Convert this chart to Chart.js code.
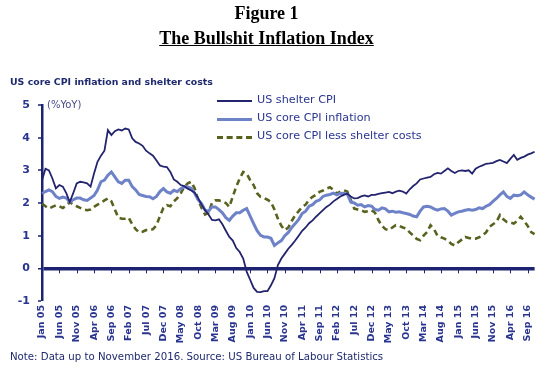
<!DOCTYPE html>
<html><head><meta charset="utf-8">
<script src="https://cdn.jsdelivr.net/npm/chart.js@4/dist/chart.umd.min.js"></script>
<style>
html,body{margin:0;padding:0;background:#fff;width:550px;height:368px;overflow:hidden;}
#wrap{position:relative;width:550px;height:368px;}
canvas{position:absolute;left:0;top:0;}
.t{position:absolute;white-space:nowrap;}
.lg{position:absolute;left:217px;width:35px;height:0;}
</style></head><body>
<div id="wrap">
<canvas id="c" width="550" height="368"></canvas>
<div class="t" style="left:0;width:533px;text-align:center;top:3px;font:bold 18px 'Liberation Serif',serif;color:#000">Figure 1</div>
<div class="t" style="left:0;width:533px;text-align:center;top:28px;font:bold 18px 'Liberation Serif',serif;color:#000;text-decoration:underline">The Bullshit Inflation Index</div>
<div class="t" style="left:10px;top:76px;font:bold 9.4px 'DejaVu Sans',sans-serif;color:#1f2a6e">US core CPI inflation and shelter costs</div>
<div class="t" style="left:47px;top:99px;font:10px 'DejaVu Sans',sans-serif;color:#4a4a8c">(%YoY)</div>
<div class="lg" style="top:100px;border-top:2px solid #23236e"></div>
<div class="t" style="left:257px;top:93px;font:11.2px 'DejaVu Sans',sans-serif;color:#2a3590">US shelter CPI</div>
<div class="lg" style="top:118px;border-top:3px solid #6e82c8"></div>
<div class="t" style="left:257px;top:111px;font:11.2px 'DejaVu Sans',sans-serif;color:#2a3590">US core CPI inflation</div>
<div class="lg" style="top:136px;border-top:3px dashed #59621f"></div>
<div class="t" style="left:257px;top:129px;font:11.2px 'DejaVu Sans',sans-serif;color:#2a3590">US core CPI less shelter costs</div>
<div class="t" style="left:10px;top:351px;font:10.2px 'DejaVu Sans',sans-serif;color:#1f2a6e">Note: Data up to November 2016. Source: US Bureau of Labour Statistics</div>
</div>
<script>
// Month categories Jan 2005 .. Nov 2016
const monthNames = ["Jan","Feb","Mar","Apr","May","Jun","Jul","Aug","Sep","Oct","Nov","Dec"];
const categories = [];
for (let y = 5; y <= 16; y++) {
  for (let m = 0; m < 12; m++) {
    if (y === 16 && m > 10) break;
    categories.push(monthNames[m] + " " + String(y).padStart(2, "0"));
  }
}
// Tick labels shown every five months
const tickLabels = ["Jan 05","Jun 05","Nov 05","Apr 06","Sep 06","Feb 07","Jul 07","Dec 07","May 08","Oct 08","Mar 09","Aug 09","Jan 10","Jun 10","Nov 10","Apr 11","Sep 11","Feb 12","Jul 12","Dec 12","May 13","Oct 13","Mar 14","Aug 14","Jan 15","Jun 15","Nov 15","Apr 16","Sep 16"];
const yTicks = [-1,0,1,2,3,4,5];

const shelterCPI = [
 2.70,3.05,3.00,2.75,2.45,2.55,2.50,2.30,2.03,2.30,2.60,2.65,
 2.63,2.60,2.50,2.90,3.26,3.45,3.60,4.23,4.08,4.20,4.25,4.22,
 4.28,4.25,3.98,3.87,3.82,3.75,3.60,3.52,3.45,3.30,3.15,3.11,
 3.10,2.95,2.72,2.65,2.55,2.52,2.44,2.38,2.32,2.15,1.95,1.78,
 1.65,1.48,1.47,1.50,1.35,1.15,0.96,0.85,0.62,0.50,0.30,-0.10,
 -0.35,-0.60,-0.72,-0.73,-0.70,-0.70,-0.52,-0.30,0.10,0.30,0.45,0.60,
 0.72,0.85,1.00,1.15,1.25,1.38,1.47,1.58,1.68,1.78,1.88,1.95,
 2.05,2.12,2.20,2.25,2.29,2.20,2.14,2.15,2.20,2.23,2.20,2.25,
 2.25,2.28,2.30,2.32,2.34,2.30,2.35,2.38,2.35,2.29,2.42,2.52,
 2.60,2.72,2.75,2.78,2.80,2.88,2.92,2.90,2.98,3.06,2.98,2.92,
 2.98,3.00,2.98,3.00,2.90,3.05,3.11,3.15,3.20,3.21,3.23,3.28,
 3.32,3.27,3.22,3.35,3.47,3.32,3.38,3.42,3.48,3.52,3.57
];
const coreCPI = [
 2.29,2.35,2.40,2.35,2.20,2.14,2.18,2.15,2.03,2.10,2.15,2.15,
 2.10,2.08,2.15,2.23,2.40,2.65,2.70,2.85,2.95,2.80,2.65,2.60,
 2.70,2.70,2.50,2.40,2.26,2.23,2.20,2.19,2.13,2.20,2.35,2.44,
 2.34,2.30,2.39,2.35,2.44,2.50,2.49,2.45,2.30,2.10,1.98,1.78,
 1.75,1.88,1.88,1.80,1.70,1.55,1.47,1.60,1.70,1.70,1.78,1.83,
 1.60,1.37,1.15,1.01,0.96,0.96,0.92,0.70,0.78,0.85,1.00,1.10,
 1.25,1.37,1.50,1.68,1.75,1.90,1.95,2.05,2.09,2.20,2.24,2.26,
 2.30,2.25,2.30,2.29,2.28,2.03,2.00,1.93,1.95,1.88,1.92,1.90,
 1.80,1.78,1.85,1.82,1.73,1.75,1.72,1.73,1.70,1.68,1.65,1.60,
 1.58,1.75,1.88,1.90,1.88,1.82,1.78,1.82,1.83,1.75,1.63,1.68,
 1.73,1.75,1.78,1.80,1.78,1.80,1.85,1.83,1.90,1.95,2.05,2.14,
 2.25,2.34,2.20,2.14,2.24,2.22,2.25,2.34,2.25,2.18,2.12
];
const coreLessShelter = [
 1.98,1.90,1.83,1.88,1.93,1.90,1.85,1.92,2.03,1.95,1.90,1.85,
 1.80,1.78,1.80,1.88,1.95,2.00,2.08,2.14,2.05,1.80,1.55,1.52,
 1.52,1.55,1.35,1.20,1.10,1.12,1.17,1.17,1.20,1.32,1.60,1.85,
 1.93,1.90,2.05,2.15,2.30,2.49,2.60,2.65,2.45,2.10,1.85,1.65,
 1.70,2.00,2.08,2.08,2.05,2.00,1.88,2.20,2.50,2.75,2.95,2.90,
 2.70,2.55,2.30,2.19,2.15,2.10,2.03,1.80,1.52,1.30,1.17,1.25,
 1.45,1.63,1.75,1.88,1.95,2.10,2.19,2.25,2.34,2.38,2.44,2.48,
 2.40,2.29,2.35,2.39,2.35,2.10,1.83,1.80,1.78,1.73,1.75,1.78,
 1.70,1.47,1.30,1.20,1.17,1.25,1.32,1.30,1.25,1.22,1.10,1.01,
 0.90,0.86,1.00,1.11,1.32,1.20,1.00,0.95,0.91,0.85,0.75,0.70,
 0.80,0.88,0.96,0.93,0.90,0.91,0.95,1.01,1.10,1.27,1.35,1.42,
 1.63,1.50,1.42,1.40,1.37,1.45,1.58,1.45,1.30,1.11,1.05
];

const NAVY = "#1c2370";
const tickText = "#2a3590";

const zeroTicks = {
  id: "zeroTicks",
  afterDatasetsDraw(chart) {
    const x = chart.scales.x, y = chart.scales.y, ctx = chart.ctx;
    const y0 = y.getPixelForValue(0);
    ctx.save();
    ctx.strokeStyle = NAVY;
    ctx.lineWidth = 1;
    categories.forEach((c, i) => {
      if (i % 5 === 0 && i > 0) {
        const px = Math.round(x.getPixelForValue(i)) + 0.5;
        ctx.beginPath(); ctx.moveTo(px, y0 + 1); ctx.lineTo(px, y0 + 5); ctx.stroke();
      }
    });
    ctx.restore();
  }
};

new Chart(document.getElementById("c"), {
  type: "line",
  data: {
    labels: categories,
    datasets: [
      { label: "US shelter CPI", data: shelterCPI, borderColor: "#23236e", borderWidth: 1.8, pointRadius: 0, tension: 0, fill: false },
      { label: "US core CPI inflation", data: coreCPI, borderColor: "#6e82c8", borderWidth: 3, pointRadius: 0, tension: 0, fill: false },
      { label: "US core CPI less shelter costs", data: coreLessShelter, borderColor: "#59621f", borderWidth: 2.6, borderDash: [6, 4], pointRadius: 0, tension: 0, fill: false }
    ]
  },
  options: {
    responsive: false,
    animation: false,
    layout: { padding: { left: 0, right: 8, top: 105, bottom: 22 } },
    plugins: { legend: { display: false }, tooltip: { enabled: false } },
    scales: {
      x: {
        type: "category",
        offset: false,
        grid: { display: false, drawTicks: false },
        border: { display: false },
        afterFit(s) { s.height = 45; },
        ticks: {
          autoSkip: false,
          minRotation: 90, maxRotation: 90,
          padding: 4,
          color: tickText,
          font: { family: "DejaVu Sans", size: 9.5, weight: "bold" },
          callback(v, i) { return i % 5 === 0 ? tickLabels[i / 5] : ""; }
        }
      },
      y: {
        min: -1, max: 5,
        afterFit(s) { s.width = 42; },
        afterBuildTicks(s) { s.ticks = yTicks.map(v => ({ value: v })); },
        border: { display: true, color: NAVY, width: 2.5 },
        grid: {
          color: c => c.tick && c.tick.value === 0 ? NAVY : "rgba(0,0,0,0)",
          lineWidth: c => c.tick && c.tick.value === 0 ? 3.5 : 0,
          tickColor: NAVY, tickLength: 4, tickWidth: 1.5
        },
        ticks: {
          padding: 8,
          color: tickText,
          font: { family: "DejaVu Sans", size: 11, weight: "bold" }
        }
      }
    }
  },
  plugins: [zeroTicks]
});
</script>
</body></html>
